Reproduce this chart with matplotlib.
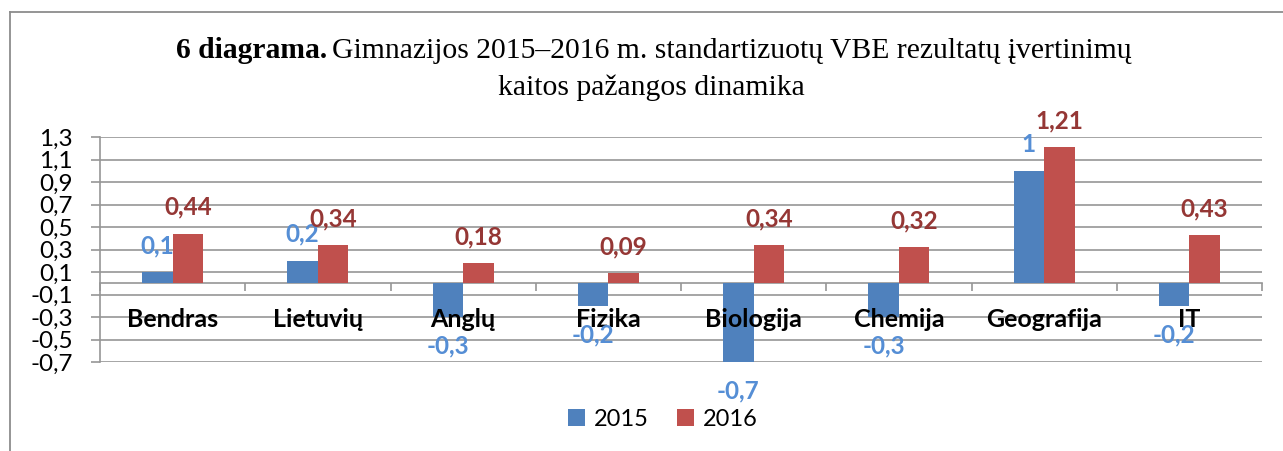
import matplotlib
matplotlib.use("Agg")
import matplotlib.pyplot as plt
import numpy as np

categories = ["Bendras", "Lietuvių", "Anglų", "Fizika", "Biologija", "Chemija", "Geografija", "IT"]
values_2015 = [0.1, 0.2, -0.3, -0.2, -0.7, -0.3, 1.0, -0.2]
values_2016 = [0.44, 0.34, 0.18, 0.09, 0.34, 0.32, 1.21, 0.43]
labels_2015 = ["0,1", "0,2", "-0,3", "-0,2", "-0,7", "-0,3", "1", "-0,2"]
labels_2016 = ["0,44", "0,34", "0,18", "0,09", "0,34", "0,32", "1,21", "0,43"]
series_names = ["2015", "2016"]
yticks = [-0.7, -0.5, -0.3, -0.1, 0.1, 0.3, 0.5, 0.7, 0.9, 1.1, 1.3]
ytick_labels = ["-0,7", "-0,5", "-0,3", "-0,1", "0,1", "0,3", "0,5", "0,7", "0,9", "1,1", "1,3"]

BLUE = "#4F81BD"
RED = "#C0504D"
BLUE_TXT = "#558ED5"
RED_TXT = "#953735"
GRID = "#969696"
FONT = "Lato"

fig = plt.figure(figsize=(12.83, 4.51), dpi=100)
ax = fig.add_axes([100/1283, 1-362/451, 1162/1283, 225/451])

x = np.arange(len(categories))
w = 0.21
b1 = ax.bar(x - w/2, values_2015, w, color=BLUE, label=series_names[0], zorder=3)
b2 = ax.bar(x + w/2, values_2016, w, color=RED, label=series_names[1], zorder=3)

ax.set_xlim(-0.5, len(categories) - 0.5)
ax.set_ylim(-0.7, 1.3)
ax.set_yticks(yticks)
ax.set_yticklabels(ytick_labels, fontfamily=FONT, fontsize=17.5)
ax.yaxis.grid(True, color=GRID, linewidth=1.2, zorder=0)
ax.set_axisbelow(True)
ax.tick_params(axis="y", length=6.5, width=1.2, color=GRID, pad=13)

for s in ["top", "right"]:
    ax.spines[s].set_visible(False)
ax.spines["left"].set_color(GRID)
ax.spines["left"].set_linewidth(1.2)
ax.spines["bottom"].set_position(("data", 0))
ax.spines["bottom"].set_color(GRID)
ax.spines["bottom"].set_linewidth(1.2)

ax.set_xticks(x)
ax.set_xticklabels([])
ax.set_xticks(np.arange(len(categories) + 1) - 0.5, minor=True)
ax.tick_params(axis="x", which="major", length=0)
ax.tick_params(axis="x", which="minor", length=6, width=1.2, color=GRID, direction="out")

# category labels drawn on top of bars
for xi, c in zip(x, categories):
    ax.annotate(c, (xi, 0), xytext=(0, -26), textcoords="offset points",
                ha="center", va="center", color="black", fontweight="bold",
                fontfamily=FONT, fontsize=18, zorder=6, annotation_clip=False)

for xi, v, t in zip(x - w/2, values_2015, labels_2015):
    off = 19 if v >= 0 else -21
    ax.annotate(t, (xi, v), xytext=(0, off), textcoords="offset points",
                ha="center", va="center", color=BLUE_TXT, fontweight="bold",
                fontfamily=FONT, fontsize=17.5, zorder=7, annotation_clip=False)
for xi, v, t in zip(x + w/2, values_2016, labels_2016):
    off = 19 if v >= 0 else -21
    ax.annotate(t, (xi, v), xytext=(0, off), textcoords="offset points",
                ha="center", va="center", color=RED_TXT, fontweight="bold",
                fontfamily=FONT, fontsize=17.5, zorder=7, annotation_clip=False)

leg = fig.legend(handles=[b1, b2], loc="center", bbox_to_anchor=(663/1283, 1-419/451),
                 ncol=2, frameon=False, prop={"family": FONT, "size": 17},
                 handlelength=0.7, handleheight=0.7, handletextpad=0.4, columnspacing=1.2)

# title
t1 = fig.text(176/1283, 1-51/451, "6 diagrama.", fontfamily="Liberation Serif",
              fontweight="bold", fontsize=21.3, ha="left", va="center")
fig.canvas.draw()
bb = t1.get_window_extent()
fig.text(bb.x1/1283 + 5/1283, 1-51/451,
         "Gimnazijos 2015\u20132016 m. standartizuotų VBE rezultatų įvertinimų",
         fontfamily="Liberation Serif", fontsize=21.3, ha="left", va="center")
fig.text(651/1283, 1-88/451, "kaitos pažangos dinamika",
         fontfamily="Liberation Serif", fontsize=21.3, ha="center", va="center")

# chart frame (left and top lines)
fig.add_artist(plt.Line2D([9.5/1283, 9.5/1283], [0, 1-12/451], color="#8c8c8c", linewidth=1.3,
                          transform=fig.transFigure))
fig.add_artist(plt.Line2D([9.5/1283, 1], [1-12/451, 1-12/451], color="#8c8c8c", linewidth=1.3,
                          transform=fig.transFigure))

fig.savefig("out.png", dpi=100)
